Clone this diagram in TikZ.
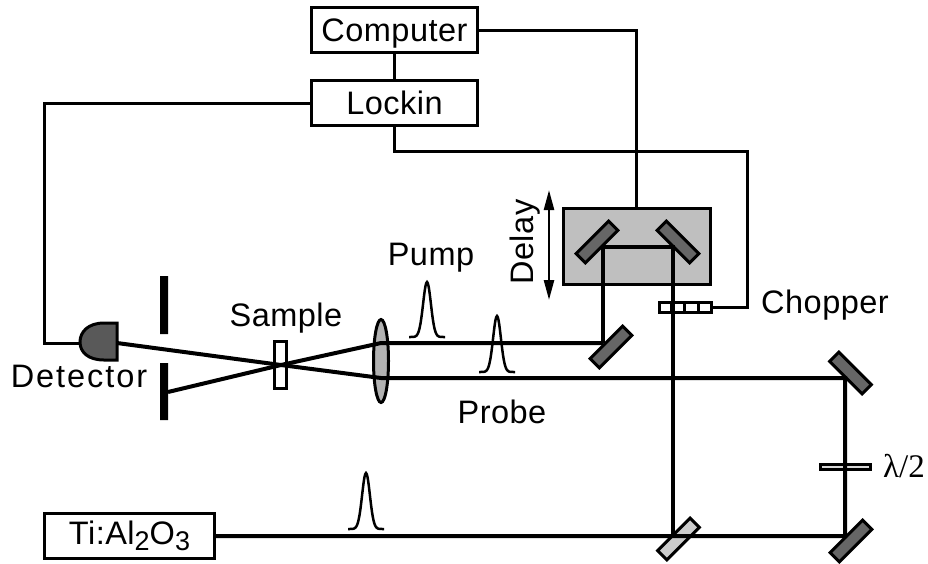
\documentclass[tikz,border=0pt]{standalone}
\usepackage{fontspec}
\setmainfont[LetterSpace=1.5]{Liberation Sans}
\newfontfamily\waveplatefont{Liberation Serif}
\usetikzlibrary{shapes.geometric}
\usetikzlibrary{arrows.meta}
\tikzstyle{label}=[inner sep=0pt,font=\fontsize{32.5}{34}\selectfont]
\tikzstyle{unit}=[rectangle,draw=black,line width=3pt,inner sep=0pt,text height=23pt,text depth=0pt,font=\fontsize{32.5}{34}\selectfont]
\tikzstyle{wire}=[line width=3pt]
\tikzstyle{beam}=[line width=4pt]
\tikzstyle{pulse}=[line width=2.5pt]
\tikzstyle{mirror}=[rectangle,draw=black,line width=3pt,fill=black!60,minimum width=46pt,minimum height=13pt,inner sep=0pt]
\newcommand \pulseat [3] {\draw[pulse] plot[domain=-18:18,samples=49,smooth] ({#1+\x},{#2-#3*exp(-(\x/5.5)^2)});}
\newcommand \lowered [1] {\raisebox{-6pt}{\fontsize{27}{28}\selectfont #1}}
\begin{document}
\begin{tikzpicture}[x=1pt,y=-1pt]
    \useasboundingbox (0,0) rectangle (928,563);
    % electronics
    \node[unit,minimum width=166pt,minimum height=45pt] at (394.5,30) (computer) {Computer};
    \node[unit,minimum width=166pt,minimum height=45pt] at (394.5,103) (lockin) {Lockin};
    \node[unit,text depth=6pt,minimum width=170pt,minimum height=45pt] at (129.5,536) (laser) {Ti:Al\lowered{2}O\lowered{3}};
    \node[rectangle,draw=black,line width=3pt,fill=black!25,minimum width=147pt,minimum height=76pt,inner sep=0pt] at (636.5,246) (stage) {};
    \node[rectangle,draw=black,line width=3pt,fill=white,minimum width=52pt,minimum height=10pt,inner sep=0pt] at (685,307) (chopper) {};
    \foreach \x in {671.5,684,698}
      \draw[wire] (\x,302) -- (\x,312);
    % mirrors
    \node[mirror,rotate=45] at (597,242) (mirrorA) {};
    \node[mirror,rotate=-45] at (678,242) (mirrorB) {};
    \node[mirror,rotate=45] at (611,347) (mirrorC) {};
    \node[mirror,rotate=-45] at (850.5,373) (mirrorD) {};
    \node[mirror,rotate=45] at (851,541) (mirrorE) {};
    \node[mirror,rotate=45,fill=black!20] at (678.5,539) (splitter) {};
    \node[rectangle,draw=black,line width=3pt,fill=black!15,minimum width=50pt,minimum height=5pt,inner sep=0pt] at (845,466.5) (plate) {};
    % sample region
    \node[ellipse,draw=black,line width=3pt,fill=black!30,minimum width=15pt,minimum height=83pt,inner sep=0pt] at (381,361) (lens) {};
    \node[rectangle,draw=black,line width=3pt,fill=white,minimum width=12pt,minimum height=47pt,inner sep=0pt] at (280.5,365) (sample) {};
    \fill (160,276) rectangle (168,334) (160,363) rectangle (168,420);
    \draw[line width=3pt,fill=black!65] (117,323) -- (117,360) -- (104,360) .. controls (88,360) and (80,352) .. (80,342) .. controls (80,332) and (88,323) .. (104,323) -- cycle;
    \coordinate (detector) at (80,343);
    \coordinate (focus) at (281,365);
    \coordinate (stagein) at (603,247);
    \coordinate (stageout) at (673,247);
    \coordinate (pumpturn) at (603,343);
    \coordinate (split) at (673,536);
    \coordinate (probeturn) at (845,378);
    \coordinate (laserturn) at (845,536);
    % beams
    \draw[beam] (laser.east) -- (laserturn) -- (probeturn) -- (381,378) -- (focus) -- (117,343);
    \draw[beam] (pumpturn) -- (381,343) -- (focus) -- (168,392);
    \draw[beam] (pumpturn) -- (stagein) -- (stageout) -- (split);
    % wires
    \draw[wire] (computer) -- (lockin);
    \draw[wire] (computer.east) -| (stage.north);
    \draw[wire] (lockin.west) -| (44,343) -- (detector);
    \draw[wire] (lockin.south) -- (394.5,151) -- (747,151) -- (747,307) -- (chopper.east);
    \draw[{Triangle[length=20pt,width=10pt]}-{Triangle[length=20pt,width=10pt]},line width=2.5pt] (549,190) -- (549,300);
    % pulses
    \pulseat{427}{337}{55}
    \pulseat{497}{372}{56}
    \pulseat{366}{529}{56}
    % labels
    \node[label] at (431,258) (pump) {Pump};
    \node[label] at (286,318) (samplelabel) {Sample};
    \node[label,font=\fontsize{32.5}{34}\selectfont\addfontfeature{LetterSpace=6}] at (79,376) (detectorlabel) {Detector};
    \node[label] at (502,412) (probe) {Probe};
    \node[label] at (825,305) (chopperlabel) {Chopper};
    \node[label,rotate=90] at (525,242) (delay) {Delay};
    \node[label,font=\fontsize{33}{34}\waveplatefont] at (904,466) (halfwave) {λ/2};
\end{tikzpicture}
\end{document}
